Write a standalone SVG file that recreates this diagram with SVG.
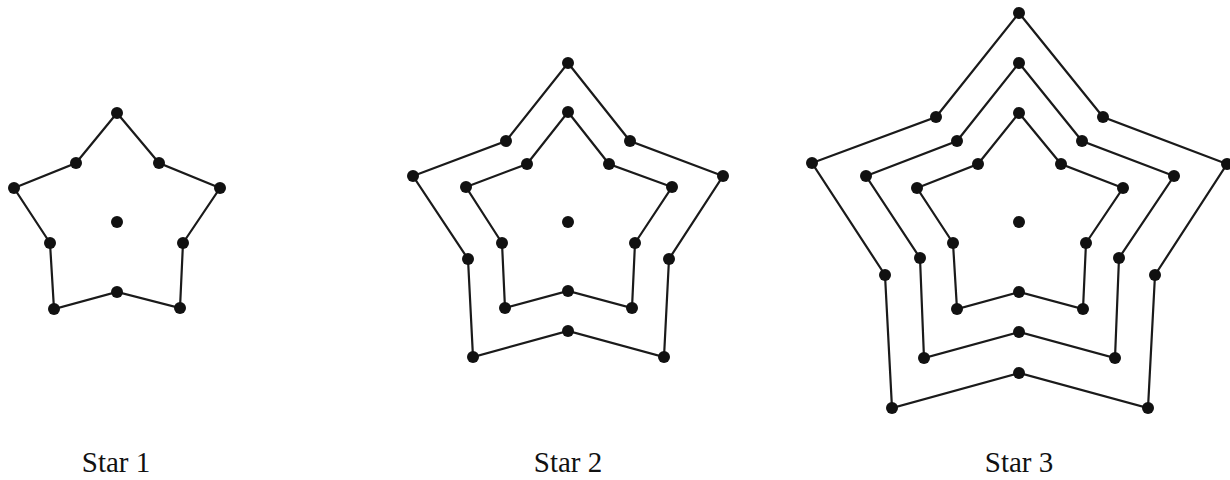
<svg xmlns="http://www.w3.org/2000/svg" width="1230" height="480" viewBox="0 0 1230 480">
<style>
.ln{fill:none;stroke:#1a1a1a;stroke-width:2.2;stroke-linejoin:miter}
.d{fill:#111}
.lb{font-family:"Liberation Serif",serif;font-size:29px;fill:#111;text-anchor:middle}
</style>
<rect width="1230" height="480" fill="#fff"/>
<g id="connectors">
<polygon class="ln" points="117,113 159,163 220,188 183,243 180,308 117,292 54,309 50,243 14,188 76,163"/>
<polygon class="ln" points="568,112 609,164 672,187 635,243 632,308 568,291 505,308 502,243 466,187 527,164"/>
<polygon class="ln" points="568,63 630,141 723,176 669,259 664,357 568,331 473,357 468,259 413,176 506,141"/>
<polygon class="ln" points="1019,113 1061,164 1123,188 1086,243 1083,309 1019,292 957,309 953,243 917,188 978,164"/>
<polygon class="ln" points="1019,63 1082,141 1174,176 1119,258 1115,358 1019,332 924,358 920,258 866,176 957,141"/>
<polygon class="ln" points="1019,13 1103,117 1227,164 1155,275 1148,408 1019,373 892,408 885,275 812,163 936,117"/>
</g>
<g id="star1">
<g class="d">
<circle cx="117" cy="113" r="6"/><circle cx="159" cy="163" r="6"/><circle cx="220" cy="188" r="6"/><circle cx="183" cy="243" r="6"/><circle cx="180" cy="308" r="6"/><circle cx="117" cy="292" r="6"/><circle cx="54" cy="309" r="6"/><circle cx="50" cy="243" r="6"/><circle cx="14" cy="188" r="6"/><circle cx="76" cy="163" r="6"/>
<circle cx="117" cy="222" r="6"/>
</g>
<text class="lb" x="116" y="472">Star 1</text>
</g>
<g id="star2">
<g class="d">
<circle cx="568" cy="112" r="6"/><circle cx="609" cy="164" r="6"/><circle cx="672" cy="187" r="6"/><circle cx="635" cy="243" r="6"/><circle cx="632" cy="308" r="6"/><circle cx="568" cy="291" r="6"/><circle cx="505" cy="308" r="6"/><circle cx="502" cy="243" r="6"/><circle cx="466" cy="187" r="6"/><circle cx="527" cy="164" r="6"/>
<circle cx="568" cy="63" r="6"/><circle cx="630" cy="141" r="6"/><circle cx="723" cy="176" r="6"/><circle cx="669" cy="259" r="6"/><circle cx="664" cy="357" r="6"/><circle cx="568" cy="331" r="6"/><circle cx="473" cy="357" r="6"/><circle cx="468" cy="259" r="6"/><circle cx="413" cy="176" r="6"/><circle cx="506" cy="141" r="6"/>
<circle cx="568" cy="222" r="6"/>
</g>
<text class="lb" x="568" y="472">Star 2</text>
</g>
<g id="star3">
<g class="d">
<circle cx="1019" cy="113" r="6"/><circle cx="1061" cy="164" r="6"/><circle cx="1123" cy="188" r="6"/><circle cx="1086" cy="243" r="6"/><circle cx="1083" cy="309" r="6"/><circle cx="1019" cy="292" r="6"/><circle cx="957" cy="309" r="6"/><circle cx="953" cy="243" r="6"/><circle cx="917" cy="188" r="6"/><circle cx="978" cy="164" r="6"/>
<circle cx="1019" cy="63" r="6"/><circle cx="1082" cy="141" r="6"/><circle cx="1174" cy="176" r="6"/><circle cx="1119" cy="258" r="6"/><circle cx="1115" cy="358" r="6"/><circle cx="1019" cy="332" r="6"/><circle cx="924" cy="358" r="6"/><circle cx="920" cy="258" r="6"/><circle cx="866" cy="176" r="6"/><circle cx="957" cy="141" r="6"/>
<circle cx="1019" cy="13" r="6"/><circle cx="1103" cy="117" r="6"/><circle cx="1227" cy="164" r="6"/><circle cx="1155" cy="275" r="6"/><circle cx="1148" cy="408" r="6"/><circle cx="1019" cy="373" r="6"/><circle cx="892" cy="408" r="6"/><circle cx="885" cy="275" r="6"/><circle cx="812" cy="163" r="6"/><circle cx="936" cy="117" r="6"/>
<circle cx="1019" cy="222" r="6"/>
</g>
<text class="lb" x="1019" y="472">Star 3</text>
</g>
</svg>
